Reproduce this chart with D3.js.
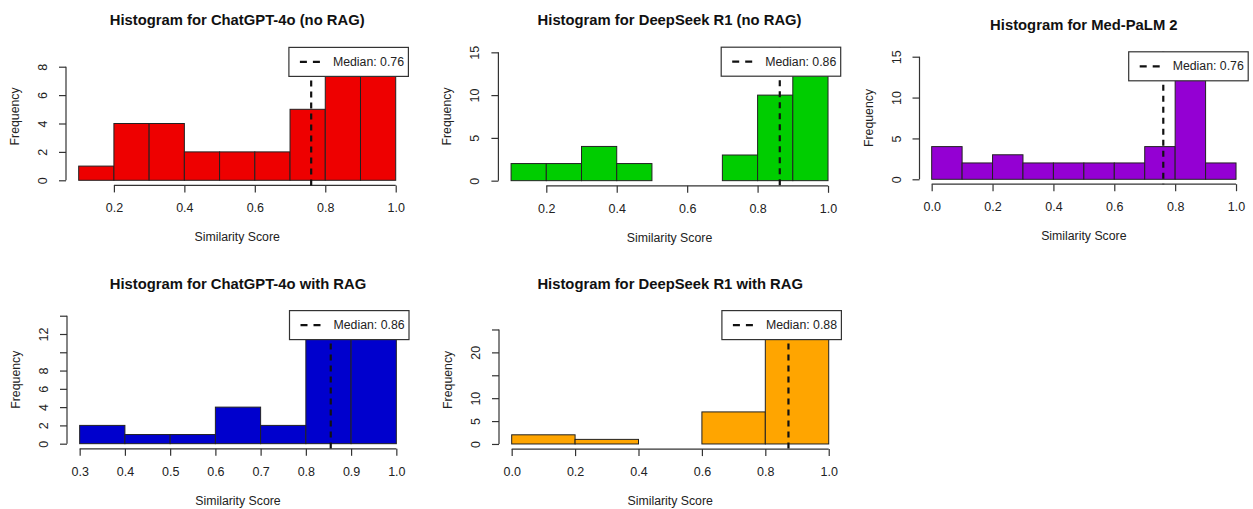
<!DOCTYPE html>
<html>
<head>
<meta charset="utf-8">
<script src="https://cdn.jsdelivr.net/npm/d3@7"></script>
<style>
  body { margin: 0; background: #fff; }
  svg { display: block; font-family: "Liberation Sans", Arial, sans-serif; }
</style>
</head>
<body>
<svg width="1253" height="509"></svg>
<script>
// panel titles and colours
const titles = [
  "Histogram for ChatGPT-4o (no RAG)",
  "Histogram for DeepSeek R1 (no RAG)",
  "Histogram for Med-PaLM 2",
  "Histogram for ChatGPT-4o with RAG",
  "Histogram for DeepSeek R1 with RAG",
];
const colors = ["#EE0000", "#00CD00", "#9400D3", "#0000CD", "#FFA500"];

// bin edges and counts per panel
const binEdges = [
  [0.1, 0.2, 0.3, 0.4, 0.5, 0.6, 0.7, 0.8, 0.9, 1.0],
  [0.1, 0.2, 0.3, 0.4, 0.5, 0.6, 0.7, 0.8, 0.9, 1.0],
  [0.0, 0.1, 0.2, 0.3, 0.4, 0.5, 0.6, 0.7, 0.8, 0.9, 1.0],
  [0.3, 0.4, 0.5, 0.6, 0.7, 0.8, 0.9, 1.0],
  [0.0, 0.2, 0.4, 0.6, 0.8, 1.0],
];
const counts = [
  [1, 4, 4, 2, 2, 2, 5, 9, 9],
  [2, 2, 4, 2, 0, 0, 3, 10, 15],
  [4, 2, 3, 2, 2, 2, 2, 4, 15, 2],
  [2, 1, 1, 4, 2, 14, 14],
  [2, 1, 0, 7, 28],
];

// median lines and legend text
const medians = [0.76, 0.863, 0.761, 0.855, 0.873];
const medianLabels = ["0.76", "0.86", "0.76", "0.86", "0.88"];

// axis ticks
const xTicks = [
  [0.2, 0.4, 0.6, 0.8, 1.0],
  [0.2, 0.4, 0.6, 0.8, 1.0],
  [0.0, 0.2, 0.4, 0.6, 0.8, 1.0],
  [0.3, 0.4, 0.5, 0.6, 0.7, 0.8, 0.9, 1.0],
  [0.0, 0.2, 0.4, 0.6, 0.8, 1.0],
];
const yTicks = [
  [0, 2, 4, 6, 8],
  [0, 5, 10, 15],
  [0, 5, 10, 15],
  [0, 2, 4, 6, 8, 10, 12, 14],
  [0, 5, 10, 15, 20, 25],
];
const yTickLabels = [
  [0, 2, 4, 6, 8],
  [0, 5, 10, 15],
  [0, 5, 10, 15],
  [0, 2, 4, 6, 8, 12],
  [0, 5, 10, 20],
];

// plot region boxes [left, top, right, bottom]
const boxes = [
  [66, 47.4, 408.4, 185.4],
  [498.4, 47.2, 840.7, 185.8],
  [919.5, 51.8, 1248.2, 184.2],
  [67, 310.6, 409, 448.8],
  [499, 310.6, 841.4, 449.1],
];

const INK = "#333";
const svg = d3.select("svg");

titles.forEach((title, i) => {
  const [left, top, right, bottom] = boxes[i];
  const edges = binEdges[i];
  const xmin = edges[0], xmax = edges[edges.length - 1];
  const ymax = d3.max(counts[i]);
  const xr = xmax - xmin;

  const x = d3.scaleLinear()
    .domain([xmin - 0.04 * xr, xmax + 0.04 * xr])
    .range([left, right]);
  const y = d3.scaleLinear()
    .domain([-0.04 * ymax, 1.04 * ymax])
    .range([bottom, top]);

  const g = svg.append("g");

  const clipId = "clip" + i;
  g.append("clipPath").attr("id", clipId)
    .append("rect")
    .attr("x", left).attr("y", top)
    .attr("width", right - left).attr("height", bottom - top);

  // bars
  const bins = counts[i].map((c, k) => ({ x0: edges[k], x1: edges[k + 1], n: c }));
  g.append("g").attr("clip-path", `url(#${clipId})`)
    .selectAll("rect")
    .data(bins)
    .join("rect")
    .attr("x", (d) => x(d.x0))
    .attr("width", (d) => x(d.x1) - x(d.x0))
    .attr("y", (d) => y(d.n))
    .attr("height", (d) => y(0) - y(d.n))
    .attr("fill", colors[i])
    .attr("stroke", "#222")
    .attr("stroke-width", 1);

  // x axis
  const xAxis = g.append("g")
    .attr("transform", `translate(0,${bottom})`)
    .call(d3.axisBottom(x).tickValues(xTicks[i]).tickFormat(d3.format(".1f"))
      .tickSize(7).tickPadding(11).tickSizeOuter(0));
  xAxis.select(".domain")
    .attr("d", `M${x(xTicks[i][0])},0H${x(xTicks[i][xTicks[i].length - 1])}`);

  // y axis
  const yAxis = g.append("g")
    .attr("transform", `translate(${left},0)`)
    .call(d3.axisLeft(y).tickValues(yTicks[i]).tickSize(7).tickSizeOuter(0));
  yAxis.select(".domain")
    .attr("d", `M0,${y(yTicks[i][0])}V${y(yTicks[i][yTicks[i].length - 1])}`);
  yAxis.selectAll(".tick text")
    .text((d) => (yTickLabels[i].includes(d) ? d : ""))
    .attr("x", 0).attr("y", 0).attr("dy", null)
    .attr("text-anchor", "middle")
    .attr("transform", "translate(-23,0) rotate(-90)")
    .attr("dominant-baseline", "central");

  [xAxis, yAxis].forEach((ax) => {
    ax.select(".domain").attr("stroke", INK).attr("stroke-width", 1.2);
    ax.selectAll(".tick line").attr("stroke", INK).attr("stroke-width", 1.2);
    ax.selectAll(".tick text").attr("fill", "#222")
      .style("font-size", "12.5px").style("font-family", "Liberation Sans, Arial, sans-serif");
  });

  // median line
  g.append("line")
    .attr("x1", x(medians[i])).attr("x2", x(medians[i]))
    .attr("y1", top).attr("y2", bottom)
    .attr("stroke", "#111")
    .attr("stroke-width", 2.2)
    .attr("stroke-dasharray", "6,5");

  // legend
  const lw = 119.5, lh = 29;
  const lg = g.append("g").attr("transform", `translate(${right - lw},${top})`);
  lg.append("rect")
    .attr("width", lw).attr("height", lh)
    .attr("fill", "#fff").attr("stroke", INK).attr("stroke-width", 1.2);
  lg.append("line")
    .attr("x1", 11).attr("x2", 34).attr("y1", lh / 2).attr("y2", lh / 2)
    .attr("stroke", "#111").attr("stroke-width", 2.2)
    .attr("stroke-dasharray", "7,6");
  lg.append("text")
    .attr("x", 44).attr("y", lh / 2)
    .attr("dominant-baseline", "central")
    .attr("fill", "#222")
    .style("font-size", "12.3px")
    .text(`Median: ${medianLabels[i]}`);

  // titles
  g.append("text")
    .attr("x", (left + right) / 2).attr("y", top - 27)
    .attr("text-anchor", "middle")
    .attr("dominant-baseline", "central")
    .attr("fill", "#111")
    .style("font-size", "14.8px").style("font-weight", "bold")
    .text(title);

  g.append("text")
    .attr("x", (left + right) / 2).attr("y", bottom + 52)
    .attr("text-anchor", "middle")
    .attr("dominant-baseline", "central")
    .attr("fill", "#222")
    .style("font-size", "12.3px")
    .text("Similarity Score");

  g.append("text")
    .attr("transform", `translate(${left - 51},${(top + bottom) / 2}) rotate(-90)`)
    .attr("text-anchor", "middle")
    .attr("dominant-baseline", "central")
    .attr("fill", "#222")
    .style("font-size", "12.3px")
    .text("Frequency");
});
</script>
</body>
</html>
